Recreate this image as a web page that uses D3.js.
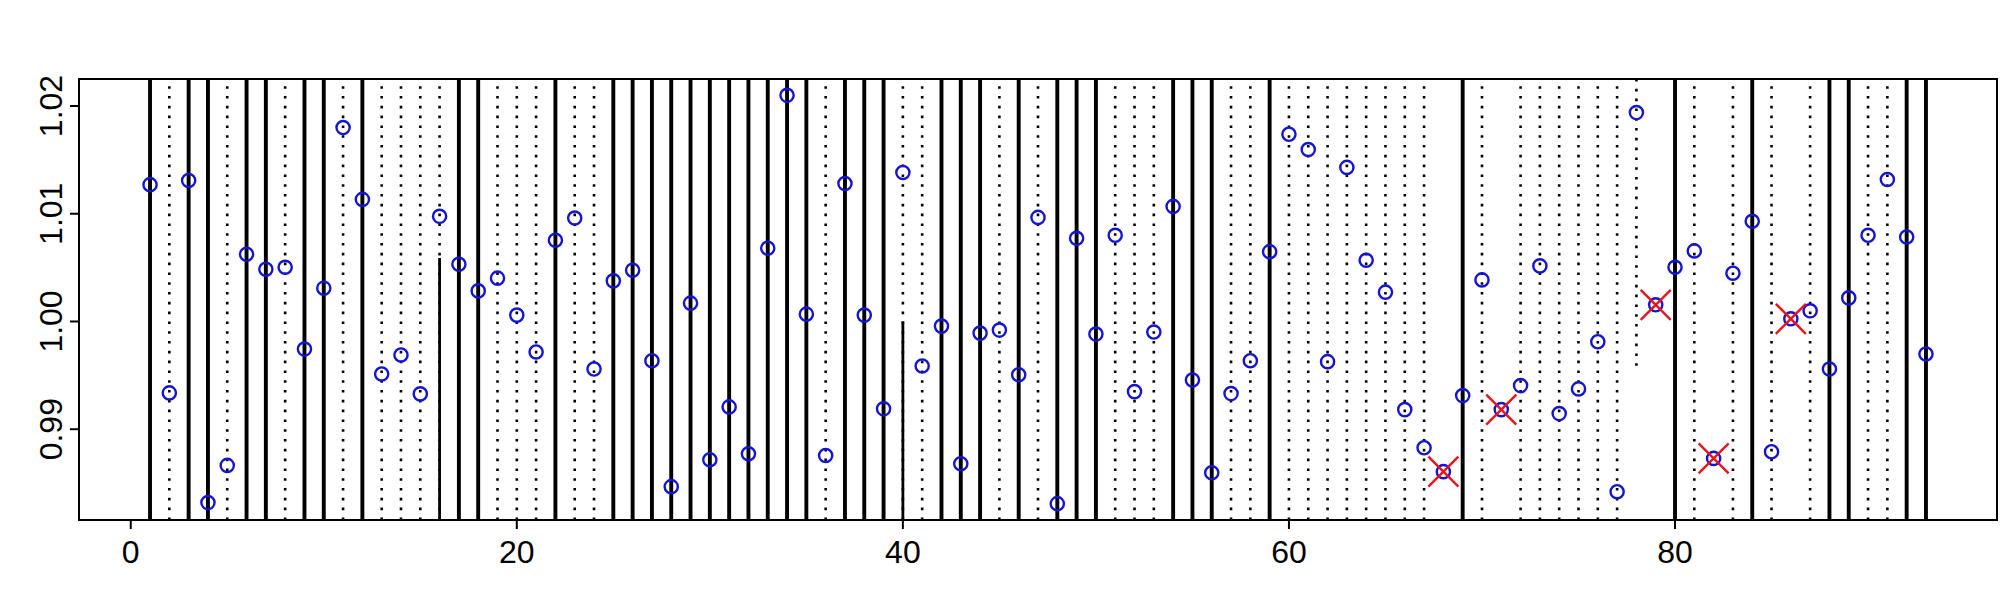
<!DOCTYPE html>
<html><head><meta charset="utf-8">
<script src="https://cdn.jsdelivr.net/npm/d3@7"></script>
<style>html,body{margin:0;padding:0;background:#fff;}</style>
</head><body>
<svg id="chart" width="2000" height="600"></svg>
<script>
// Observed values at x = 1..93
const values = [
 1.0127, 0.99337, 1.01309, 0.98319, 0.98664, 1.00624, 1.00485, 1.00503, 0.99744, 1.00309,
 1.01800, 1.01133, 0.99513, 0.99689, 0.99328, 1.00976, 1.00531, 1.00284, 1.00402, 1.00059,
 0.99717, 1.00754, 1.00960, 0.99559, 1.00377, 1.00476, 0.99636, 0.98467, 1.00170, 0.98717,
 0.99207, 0.98772, 1.00680, 1.02099, 1.00068, 0.98756, 1.01281, 1.00059, 0.99189, 1.01383,
 0.99587, 0.99957, 0.98680, 0.99892, 0.99920, 0.99506, 1.00966, 0.98309, 1.00772, 0.99883,
 1.00800, 0.99349, 0.99902, 1.01068, 0.99457, 0.98596, 0.99331, 0.99636, 1.00648, 1.01738,
 1.01596, 0.99627, 1.01430, 1.00568, 1.00272, 0.99182, 0.98828, 0.98606, 0.99312, 1.00386,
 0.99182, 0.99405, 1.00516, 0.99145, 0.99374, 0.99812, 0.98420, 1.01939, 1.00155, 1.00503,
 1.00655, 0.98729, 1.00448, 1.00930, 0.98791, 1.00025, 1.00099, 0.99559, 1.00219, 1.00800,
 1.01318, 1.00784, 0.99698
];
// Vertical line type per x (S = solid, D = dotted, "" = none)
const lineTypes = [
 "S","D","S","S","D","S","S","D","S","S",
 "D","S","D","D","D","D","S","S","D","D",
 "D","S","D","D","S","S","S","S","S","S",
 "S","S","S","S","S","D","S","S","S","D",
 "D","S","S","S","D","S","D","S","S","S",
 "D","D","D","S","S","S","D","D","S","D",
 "D","D","D","D","D","D","D","","S","D",
 "","D","D","D","D","D","D","","","S",
 "D","","D","S","D","","D","S","S","D",
 "D","S","S"
];
// Partial solid lines from the bottom up to a value
const partialSolidX = [16, 40];
const partialSolidTop = [1.0059, 1.0000];
// Partial dotted line from the top down to a value
const partialDottedX = [78];
const partialDottedBottom = [0.9955];
// Points marked with a red cross
const crossX = [68, 71, 79, 82, 86];
const xTicks = [0, 20, 40, 60, 80];
const yTicks = [0.99, 1.00, 1.01, 1.02];

const xs = values.map((v, i) => i + 1);
const svg = d3.select("#chart");
const L = 79, R = 1997, T = 79, B = 520;

function expand(ext) { const r = ext[1] - ext[0]; return [ext[0] - 0.04 * r, ext[1] + 0.04 * r]; }
const x = d3.scaleLinear().domain(expand(d3.extent(xs))).range([L, R]);
const y = d3.scaleLinear().domain(expand(d3.extent(values))).range([B, T]);

const g = svg.append("g");
// full vertical lines
g.selectAll("line.v").data(xs.filter((d, i) => lineTypes[i] !== "")).enter()
 .append("line")
 .attr("x1", d => x(d)).attr("x2", d => x(d))
 .attr("y1", B).attr("y2", T)
 .attr("stroke", "#000")
 .attr("stroke-width", d => lineTypes[d - 1] === "S" ? 3.9 : 2.6)
 .attr("stroke-dasharray", d => lineTypes[d - 1] === "S" ? null : "2.6,7.2");
// partial solid
g.selectAll("line.ps").data(partialSolidX).enter().append("line")
 .attr("x1", d => x(d)).attr("x2", d => x(d))
 .attr("y1", B).attr("y2", (d, i) => y(partialSolidTop[i]))
 .attr("stroke", "#000").attr("stroke-width", 2.8);
// partial dotted
g.selectAll("line.pd").data(partialDottedX).enter().append("line")
 .attr("x1", d => x(d)).attr("x2", d => x(d))
 .attr("y1", T).attr("y2", (d, i) => y(partialDottedBottom[i]))
 .attr("stroke", "#000").attr("stroke-width", 2.6).attr("stroke-dasharray", "2.6,7.2");

// points
g.selectAll("circle").data(xs).enter().append("circle")
 .attr("cx", d => x(d)).attr("cy", d => y(values[d - 1]))
 .attr("r", 6.6).attr("fill", "none").attr("stroke", "#1414d2").attr("stroke-width", 2.4);

// red crosses
const cs = 15;
crossX.forEach(cx => {
  const px = x(cx), py = y(values[cx - 1]);
  g.append("path")
   .attr("d", `M${px - cs},${py - cs}L${px + cs},${py + cs}M${px - cs},${py + cs}L${px + cs},${py - cs}`)
   .attr("stroke", "#e8141c").attr("stroke-width", 2.4).attr("fill", "none");
});

// box
svg.append("rect").attr("x", L).attr("y", T).attr("width", R - L).attr("height", B - T)
 .attr("fill", "none").attr("stroke", "#000").attr("stroke-width", 2);

// x axis
const xa = svg.append("g");
xTicks.forEach(t => {
  xa.append("line").attr("x1", x(t)).attr("x2", x(t)).attr("y1", B).attr("y2", B + 9)
    .attr("stroke", "#000").attr("stroke-width", 2);
  xa.append("text").attr("x", x(t)).attr("y", 563).attr("text-anchor", "middle")
    .attr("font-family", "Liberation Sans, Arial, sans-serif").attr("font-size", 32)
    .attr("fill", "#000").text(t);
});
// y axis
const ya = svg.append("g");
yTicks.forEach(t => {
  ya.append("line").attr("x1", L - 9).attr("x2", L).attr("y1", y(t)).attr("y2", y(t))
    .attr("stroke", "#000").attr("stroke-width", 2);
  ya.append("text").attr("transform", `translate(62,${y(t)}) rotate(-90)`)
    .attr("text-anchor", "middle")
    .attr("font-family", "Liberation Sans, Arial, sans-serif").attr("font-size", 32)
    .attr("fill", "#000").text(d3.format(".2f")(t));
});
</script>
</body></html>
